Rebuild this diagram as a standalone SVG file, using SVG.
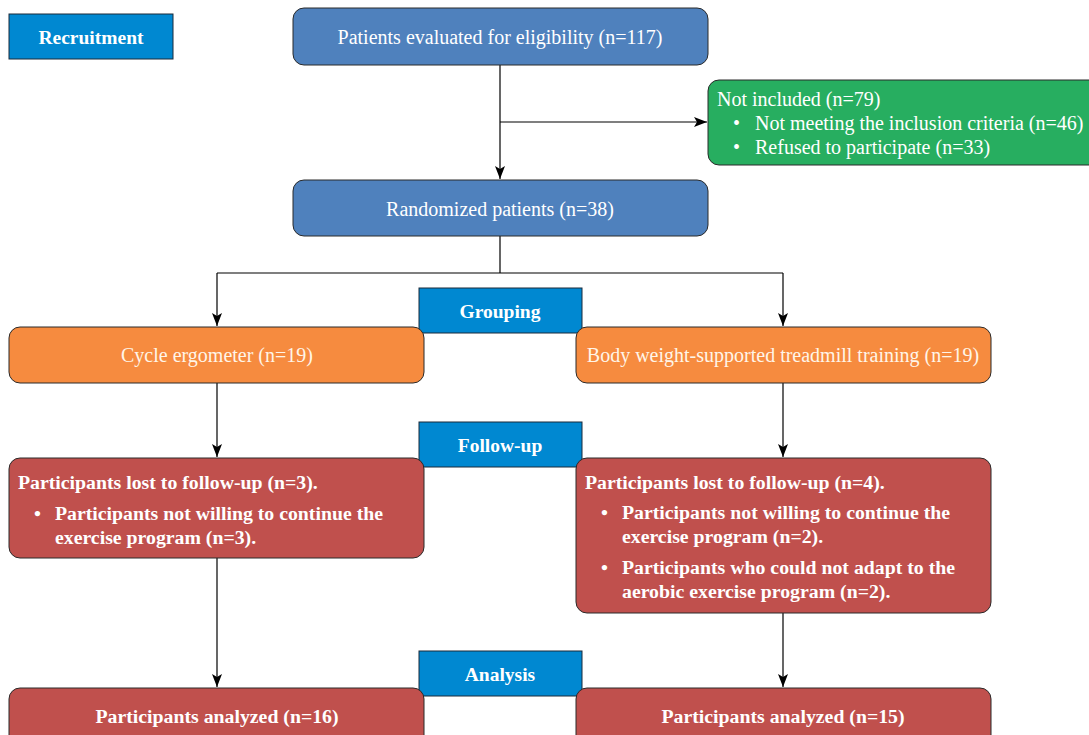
<svg xmlns="http://www.w3.org/2000/svg" width="1089" height="735" viewBox="0 0 1089 735">
<defs>
<marker id="ah" viewBox="0 0 13 10" refX="13" refY="5" markerWidth="13" markerHeight="10" markerUnits="userSpaceOnUse" orient="auto">
<path d="M0,0 L13,5 L0,10 L3,5 Z" fill="#000"/>
</marker>
<style>
text{font-family:"Liberation Serif","Times New Roman",serif;fill:#fff}
.lbl rect{fill:#0088d1;stroke:#1a2a3a;stroke-width:1}
.lbl text{font-weight:bold;font-size:19.5px;text-anchor:middle}
.blue{fill:#4f81bd;stroke:#2a2a2a;stroke-width:1}
.green{fill:#27ae60;stroke:#2a2a2a;stroke-width:1}
.orange{fill:#f68b3f;stroke:#2a2a2a;stroke-width:1}
.red{fill:#c0504d;stroke:#2a2a2a;stroke-width:1}
.reg{font-size:20px}
.mid{text-anchor:middle}
.b{font-weight:bold;font-size:19.8px}
.conn path{fill:none;stroke:#000;stroke-width:1.2}
</style>
</defs>
<rect width="1089" height="735" fill="#fff"/>

<g id="conn" class="conn">
<path d="M500,65 V179" marker-end="url(#ah)"/>
<path d="M500,122 H707" marker-end="url(#ah)"/>
<path d="M500,236 V273 M217,273 H783"/>
<path d="M217,273 V326" marker-end="url(#ah)"/>
<path d="M783,273 V326" marker-end="url(#ah)"/>
<path d="M217,383 V457" marker-end="url(#ah)"/>
<path d="M783,383 V457" marker-end="url(#ah)"/>
<path d="M217,558 V687" marker-end="url(#ah)"/>
<path d="M783,613 V687" marker-end="url(#ah)"/>
</g>

<g id="recruitment" class="lbl">
<rect x="9" y="14" width="164" height="45"/>
<text x="91" y="44">Recruitment</text>
</g>

<g id="evaluated">
<rect class="blue" x="293" y="8" width="415" height="57" rx="11"/>
<text class="reg mid" x="500" y="44">Patients evaluated for eligibility (n=117)</text>
</g>

<g id="notincluded">
<rect class="green" x="708" y="80" width="395" height="85" rx="11"/>
<text class="reg" x="717" y="106">Not included (n=79)</text>
<text class="reg" x="733" y="130">•</text>
<text class="reg" x="755" y="130">Not meeting the inclusion criteria (n=46)</text>
<text class="reg" x="733" y="154">•</text>
<text class="reg" x="755" y="154">Refused to participate (n=33)</text>
</g>

<g id="randomized">
<rect class="blue" x="293" y="180" width="415" height="56" rx="11"/>
<text class="reg mid" x="500" y="216">Randomized patients (n=38)</text>
</g>

<g id="grouping" class="lbl">
<rect x="419" y="288" width="163" height="45"/>
<text x="500" y="318">Grouping</text>
</g>

<g id="cycle">
<rect class="orange" x="9" y="327" width="415" height="56" rx="11"/>
<text class="reg mid" x="217" y="362" style="fill:#fff5e8">Cycle ergometer (n=19)</text>
</g>

<g id="bwstt">
<rect class="orange" x="576" y="327" width="415" height="56" rx="11"/>
<text class="reg mid" x="783" y="362" style="fill:#fff5e8">Body weight-supported treadmill training (n=19)</text>
</g>

<g id="followup" class="lbl">
<rect x="419" y="422" width="163" height="45"/>
<text x="500" y="452">Follow-up</text>
</g>

<g id="lost1">
<rect class="red" x="9" y="458" width="415" height="100" rx="11"/>
<text class="b" x="18" y="489">Participants lost to follow-up (n=3).</text>
<text class="b" x="34" y="520">•</text>
<text class="b" x="55" y="520">Participants not willing to continue the</text>
<text class="b" x="55" y="544">exercise program (n=3).</text>
</g>

<g id="lost2">
<rect class="red" x="576" y="458" width="415" height="155" rx="11"/>
<text class="b" x="585" y="489">Participants lost to follow-up (n=4).</text>
<text class="b" x="601" y="519">•</text>
<text class="b" x="622" y="519">Participants not willing to continue the</text>
<text class="b" x="622" y="543">exercise program (n=2).</text>
<text class="b" x="601" y="574">•</text>
<text class="b" x="622" y="574">Participants who could not adapt to the</text>
<text class="b" x="622" y="598">aerobic exercise program (n=2).</text>
</g>

<g id="analysis" class="lbl">
<rect x="419" y="651" width="163" height="45"/>
<text x="500" y="681">Analysis</text>
</g>

<g id="analyzed1">
<rect class="red" x="9" y="688" width="415" height="60" rx="11"/>
<text class="b mid" x="217" y="723">Participants analyzed (n=16)</text>
</g>

<g id="analyzed2">
<rect class="red" x="576" y="688" width="415" height="60" rx="11"/>
<text class="b mid" x="783" y="723">Participants analyzed (n=15)</text>
</g>
</svg>
